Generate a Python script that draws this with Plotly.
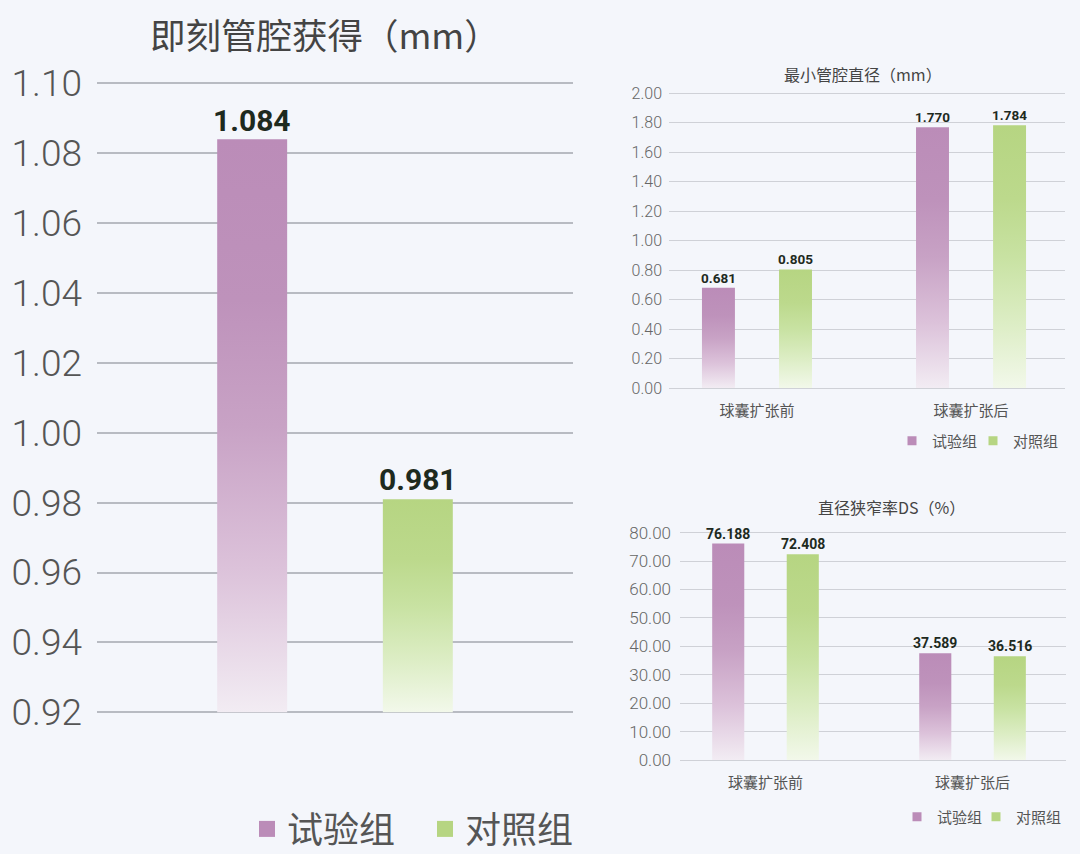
import plotly.graph_objects as go

# ---------------- data ----------------
series_names = ["试验组", "对照组"]

left_title = "即刻管腔获得（mm）"
left_values = [1.084, 0.981]          # 试验组, 对照组
left_ticks = [0.92, 0.94, 0.96, 0.98, 1.00, 1.02, 1.04, 1.06, 1.08, 1.10]

categories = ["球囊扩张前", "球囊扩张后"]

top_title = "最小管腔直径（mm）"
top_trial = [0.681, 1.770]
top_control = [0.805, 1.784]
top_ticks = [0.00, 0.20, 0.40, 0.60, 0.80, 1.00, 1.20, 1.40, 1.60, 1.80, 2.00]

bottom_title = "直径狭窄率DS（%）"
bottom_trial = [76.188, 37.589]
bottom_control = [72.408, 36.516]
bottom_ticks = [0, 10, 20, 30, 40, 50, 60, 70, 80]

# ---------------- style / layout ----------------
W, H = 1080, 854
BG = "#f4f6fb"
CJK = "Noto Sans CJK SC"
NUM = "Roboto, Noto Sans CJK SC"
PURPLE = "#bb8cb8"
GREEN = "#b6d582"
PURPLE_SCALE = [[0, "#f2ecf3"], [0.25, "#dcc2da"], [0.5, "#c8a2c5"], [0.72, "#be92bb"], [1, PURPLE]]
GREEN_SCALE = [[0, "#f2f8ea"], [0.25, "#dcedc4"], [0.5, "#c8e2a2"], [0.72, "#bcd98c"], [1, GREEN]]
PAD = 2  # px of extra range so the edge grid lines are drawn


def y_axis_box(top_px, bot_px, vmin, vmax):
    per_px = (vmax - vmin) / (bot_px - top_px)
    dom = [(H - bot_px - PAD) / H, (H - top_px + PAD) / H]
    rng = [vmin - PAD * per_px, vmax + PAD * per_px]
    return dom, rng


fig = go.Figure()


def add_bars(xaxis, yaxis, cats_idx, values, offset, width, base, scale):
    for ci, v in zip(cats_idx, values):
        c = ci + offset
        x0, x1 = c - width / 2, c + width / 2
        fig.add_trace(go.Scatter(
            x=[x0, x1, x1, x0, x0], y=[base, base, v, v, base],
            mode="lines", line=dict(width=0), fill="toself",
            fillgradient=dict(type="vertical", colorscale=scale, start=base, stop=v),
            xaxis=xaxis, yaxis=yaxis, showlegend=False, hoverinfo="skip"))


def add_labels(xref, yref, cats_idx, values, offset, fmt, size, shift):
    for ci, v in zip(cats_idx, values):
        fig.add_annotation(x=ci + offset, y=v, xref=xref, yref=yref,
                           text=format(v, fmt), showarrow=False,
                           yanchor="bottom", yshift=shift,
                           font=dict(family=NUM, size=size, color="#1e2a1e", weight="bold"))


# left chart: a single category with two series
add_bars("x", "y", [0], [left_values[0]], -0.174, 0.147, left_ticks[0], PURPLE_SCALE)
add_bars("x", "y", [0], [left_values[1]], 0.174, 0.147, left_ticks[0], GREEN_SCALE)
add_labels("x", "y", [0], [left_values[0]], -0.174, ".3f", 30, -1)
add_labels("x", "y", [0], [left_values[1]], 0.174, ".3f", 30, 0)

# top-right chart
idx = list(range(len(categories)))
add_bars("x2", "y2", idx, top_trial, -0.18, 0.154, 0, PURPLE_SCALE)
add_bars("x2", "y2", idx, top_control, 0.18, 0.154, 0, GREEN_SCALE)
add_labels("x2", "y2", idx, top_trial, -0.18, ".3f", 13.5, 0)
add_labels("x2", "y2", idx, top_control, 0.18, ".3f", 13.5, 0)

# bottom-right chart
add_bars("x3", "y3", idx, bottom_trial, -0.18, 0.155, 0, PURPLE_SCALE)
add_bars("x3", "y3", idx, bottom_control, 0.18, 0.155, 0, GREEN_SCALE)
add_labels("x3", "y3", idx, bottom_trial, -0.18, ".3f", 14, 0)
add_labels("x3", "y3", idx, bottom_control, 0.18, ".3f", 14, 0)

# legends: one legend per entry so each can be placed like the reference
legend_specs = [
    # (axes, marker size, font size, text-left px, centre-y px)
    ("x", "y", 16, 36, [287, 465], 829),
    ("x2", "y2", 9, 15, [932, 1013], 441),
    ("x3", "y3", 9, 15, [937, 1016], 817),
]
legend_layout = {}
k = 0
for xa, ya, msize, fsize, text_left, cy in legend_specs:
    for j, (name, col) in enumerate(zip(series_names, [PURPLE, GREEN])):
        k += 1
        lid = "legend" if k == 1 else f"legend{k}"
        fig.add_trace(go.Scatter(x=[None], y=[None], mode="markers", name=name,
                                 marker=dict(symbol="square", size=msize, color=col),
                                 xaxis=xa, yaxis=ya, legend=lid, showlegend=True))
        legend_layout[lid] = dict(
            orientation="h", xref="paper", yref="paper",
            x=(text_left[j] - 40) / W, xanchor="left", y=(H - cy) / H, yanchor="middle",
            font=dict(family=CJK, size=fsize, color="#555555"), bgcolor="rgba(0,0,0,0)",
            itemsizing="trace", borderwidth=0)

grid_common = dict(zeroline=False, showline=False, ticks="", automargin=False)

y1_dom, y1_rng = y_axis_box(83.3, 712.3, left_ticks[0], left_ticks[-1])
y2_dom, y2_rng = y_axis_box(93.3, 388.0, top_ticks[0], top_ticks[-1])
y3_dom, y3_rng = y_axis_box(532.7, 760.0, bottom_ticks[0], bottom_ticks[-1])

fig.update_layout(
    width=W, height=H, autosize=False,
    margin=dict(l=0, r=0, t=0, b=0, pad=0, autoexpand=False),
    paper_bgcolor=BG, plot_bgcolor=BG,
    showlegend=True,
    xaxis=dict(domain=[97 / W, 573 / W], range=[-0.5, 0.5], showgrid=False,
               showticklabels=False, anchor="y", **grid_common),
    yaxis=dict(domain=y1_dom, range=y1_rng,
               tickvals=left_ticks, tickformat=".2f", gridcolor="#b8bbc2", gridwidth=1.5,
               tickfont=dict(family=NUM, size=37, color="#555555", weight=300),
               ticklabelstandoff=14, anchor="x", **grid_common),
    xaxis2=dict(domain=[669 / W, 1065 / W], range=[-0.411, 1.439], showgrid=False,
                tickvals=idx, ticktext=categories, ticklabelstandoff=10,
                tickfont=dict(family=CJK, size=15, color="#555555"), anchor="y2", **grid_common),
    yaxis2=dict(domain=y2_dom, range=y2_rng, tickvals=top_ticks,
                tickformat=".2f", gridcolor="#cfd1d7", gridwidth=1,
                tickfont=dict(family=NUM, size=16, color="#666666", weight=300),
                ticklabelstandoff=6, anchor="x2", **grid_common),
    xaxis3=dict(domain=[680 / W, 1065.7 / W], range=[-0.413, 1.45], showgrid=False,
                tickvals=idx, ticktext=categories, ticklabelstandoff=10,
                tickfont=dict(family=CJK, size=15, color="#555555"), anchor="y3", **grid_common),
    yaxis3=dict(domain=y3_dom, range=y3_rng, tickvals=bottom_ticks,
                tickformat=".2f", gridcolor="#cfd1d7", gridwidth=1,
                tickfont=dict(family=NUM, size=17, color="#666666", weight=300),
                ticklabelstandoff=8, anchor="x3", **grid_common),
    **legend_layout,
)

# chart titles
for text, xpx, ypx, size in [(left_title, 324.5, 33, 35.5),
                             (top_title, 863, 74, 16),
                             (bottom_title, 891, 507, 16)]:
    fig.add_annotation(text=text, x=xpx / W, y=(H - ypx) / H, xref="paper", yref="paper",
                       showarrow=False, xanchor="center", yanchor="middle",
                       font=dict(family=CJK, size=size, color="#444444"))

fig.write_html("out.html")
